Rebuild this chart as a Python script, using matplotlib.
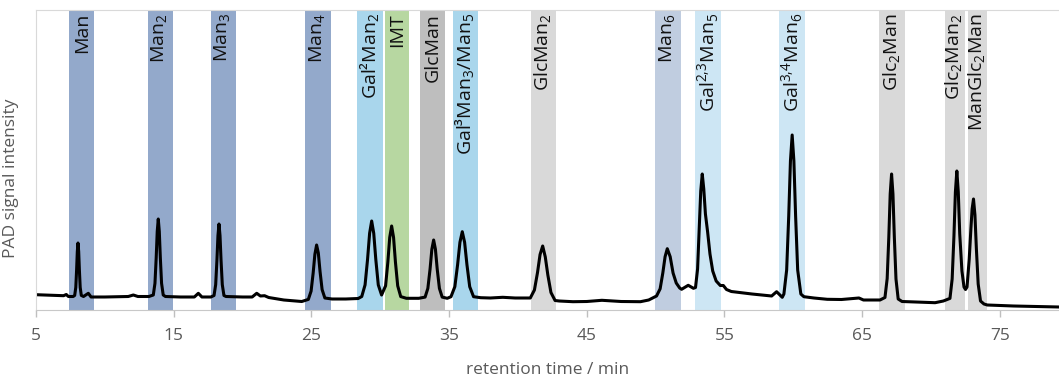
import matplotlib
matplotlib.use("Agg")
import matplotlib.pyplot as plt
from matplotlib.transforms import blended_transform_factory

plt.rcParams['font.family'] = ['Open Sans', 'DejaVu Sans']
plt.rcParams['mathtext.fontset'] = 'custom'
plt.rcParams['mathtext.rm'] = 'Open Sans'

# retention time (min) and PAD signal (arbitrary units)
time = [5.0, 6.0, 7.0, 7.2, 7.35, 7.7,
        7.81, 7.89, 7.95, 8.0, 8.05, 8.10, 8.15, 8.21, 8.29, 8.45, 8.8, 9.0,
        10.0, 11.0, 11.7, 12.07, 12.4, 13.2,
        13.52, 13.64, 13.73, 13.805, 13.88, 13.955, 14.03, 14.12, 14.24, 14.4, 15.5, 16.5, 16.79, 17.05, 17.7,
        17.93, 18.05, 18.14, 18.215, 18.29, 18.365, 18.44, 18.53, 18.65, 18.8, 20.0, 20.7, 21.03, 21.3, 21.6, 21.9, 23.0, 24.3,
        24.78, 24.98, 25.13, 25.255, 25.38, 25.505, 25.63, 25.78, 25.98, 26.5, 27.5, 28.4,
        28.66, 28.9, 29.08, 29.23, 29.38, 29.53, 29.68, 29.86, 30.1,
        30.39, 30.555, 30.69, 30.83, 30.97, 31.105, 31.27, 31.49, 31.9, 32.8,
        33.26, 33.46, 33.62, 33.75, 33.88, 34.01, 34.14, 34.3, 34.5, 34.87,
        35.14, 35.42, 35.62, 35.79, 35.96, 36.13, 36.3, 36.5, 36.78, 37.3, 38.0, 38.9, 39.8, 40.6,
        40.9, 41.2, 41.425, 41.61, 41.8, 41.99, 42.175, 42.4, 42.7, 43.0, 44.0, 45.0, 46.1, 47.5, 48.9, 49.5,
        50.07, 50.33, 50.525, 50.69, 50.85, 51.06, 51.27, 51.5, 51.75, 51.89, 52.37, 52.75, 52.9,
        53.05, 53.17, 53.28, 53.39, 53.5, 53.62, 53.78, 53.95, 54.15, 54.4, 54.7, 54.92, 55.15, 55.5, 57.0, 58.43, 58.79, 59.2,
        59.32, 59.52, 59.67, 59.795, 59.92, 60.045, 60.17, 60.32, 60.55, 60.77, 61.5, 62.47, 63.5, 64.77, 65.1, 66.3,
        66.66, 66.82, 66.94, 67.04, 67.14, 67.24, 67.34, 67.46, 67.62, 67.9, 69.0, 70.3, 70.9,
        71.38, 71.54, 71.67, 71.775, 71.88, 71.985, 72.09, 72.25, 72.4, 72.51,
        72.62, 72.78, 72.9, 72.99, 73.09, 73.195, 73.3, 73.43, 73.6, 73.85, 74.09, 76.0, 79.3]
signal = [14.3, 13.8, 13.3, 14.5, 12.5, 12.5,
          13.6, 21.6, 39.3, 57.4, 66, 57.4, 39.3, 21.6, 13.6, 12.5, 15.7, 12,
          12, 12.3, 12.5, 14, 12.5, 12.5,
          14, 25.7, 51.3, 77.6, 90, 77.6, 51.3, 25.7, 14, 12.5, 12, 12, 15.7, 12, 12,
          13.5, 24.4, 48.5, 73.3, 85, 73.3, 48.5, 24.4, 13.5, 12.5, 12, 12, 15.7, 13, 13.3, 11.5, 9, 7.5,
          9.6, 17.9, 36, 54.7, 64, 56, 37.5, 19.4, 11, 10, 10, 10.5,
          12.5, 24.1, 49.5, 75.7, 88, 75.7, 49.5, 24.1, 14,
          23.2, 47, 71.5, 83, 71.5, 47, 23.2, 12.4, 10.7, 10.7,
          11.9, 20.6, 39.9, 59.7, 69, 59.7, 39.9, 20.6, 11.9, 10.7,
          12.3, 22.3, 44.2, 66.7, 77.3, 66.7, 44.2, 22.3, 12.3, 11.3, 11, 11.7, 11, 11,
          11, 19, 36.5, 54.5, 63, 52, 34, 16.5, 8.5, 8, 7.3, 7.5, 8.7, 7.5, 7.3, 9,
          13, 20.2, 36, 52.3, 60.3, 52.3, 36, 26, 21, 19.7, 23.7, 20.7, 21.5,
          40, 80, 118, 135, 120, 95, 77, 55, 38, 28, 23.5, 23.5, 19.5, 17.5, 15, 13, 17.3, 11.7,
          15, 39, 93, 148, 174, 148, 93, 39, 15, 12.3, 11, 9.7, 9.5, 11, 9, 9,
          11.5, 30.4, 72, 115, 135, 115, 72, 30, 10, 7.5, 7, 6.3, 8,
          10.6, 30, 73, 117, 138, 117, 75, 38, 22, 19.5,
          22, 50, 80, 100, 110, 94, 60, 25, 8, 5, 4, 3, 2]

# shaded retention windows of the reference compounds
labels = ['Man', r'Man$_\mathregular{2}$', r'Man$_\mathregular{3}$', r'Man$_\mathregular{4}$',
          r'Gal²Man$_\mathregular{2}$', 'IMT', 'GlcMan', r'Gal³Man$_\mathregular{3}$/Man$_\mathregular{5}$',
          r'GlcMan$_\mathregular{2}$', r'Man$_\mathregular{6}$', r'Gal$^\mathregular{2{,}3}$Man$_\mathregular{5}$',
          r'Gal$^\mathregular{3{,}4}$Man$_\mathregular{6}$', r'Glc$_\mathregular{2}$Man',
          r'Glc$_\mathregular{2}$Man$_\mathregular{2}$', r'ManGlc$_\mathregular{2}$Man']
band_start = [7.40, 13.11, 17.69, 24.56, 28.33, 30.34, 32.89, 35.28, 40.92, 49.95, 52.86, 58.98, 66.24, 71.01, 72.68]
band_end = [9.23, 14.95, 19.52, 26.40, 30.20, 32.07, 34.73, 37.12, 42.76, 51.82, 54.72, 60.82, 68.09, 72.44, 74.09]
band_colors = ['#93A9CB', '#93A9CB', '#93A9CB', '#93A9CB', '#A9D6EC', '#B7D7A1', '#BEBEBE', '#A9D6EC',
               '#D9D9D9', '#C0CDE0', '#CDE6F4', '#CDE6F4', '#D9D9D9', '#D9D9D9', '#D9D9D9']

xticks = [5, 15, 25, 35, 45, 55, 65, 75]

fig = plt.figure(figsize=(10.59, 3.80), dpi=100)
ax = fig.add_axes([36/1059, 70/380, 1 - 36/1059, 300/380])

trans = blended_transform_factory(ax.transData, ax.transAxes)
for lab, x0, x1, c in zip(labels, band_start, band_end, band_colors):
    ax.axvspan(x0, x1, color=c, lw=0, zorder=1)
    ax.text((x0 + x1) / 2, 0.99, lab, transform=trans, rotation=90, ha='center', va='top',
            fontsize=14, color='#111111', zorder=3)

ax.plot(time, signal, color='black', lw=2.2, zorder=2, solid_joinstyle='round')

ax.set_xlim(5, 79.3)
ax.set_ylim(-1, 299)
ax.set_xticks(xticks)
ax.set_yticks([])
ax.tick_params(axis='x', colors='#BFBFBF', length=5, width=1, labelcolor='#595959', labelsize=12.5, pad=8)
for s in ['top', 'left']:
    ax.spines[s].set_color('#D9D9D9')
ax.spines['bottom'].set_color('#C8C8C8')
ax.spines['right'].set_visible(False)

ax.set_xlabel('retention time / min', color='#595959', fontsize=12.5, labelpad=13)
ax.set_ylabel('PAD signal intensity', color='#595959', fontsize=12.5)
ax.yaxis.set_label_coords(-0.017, 0.44)

fig.savefig('out.png', dpi=100)
